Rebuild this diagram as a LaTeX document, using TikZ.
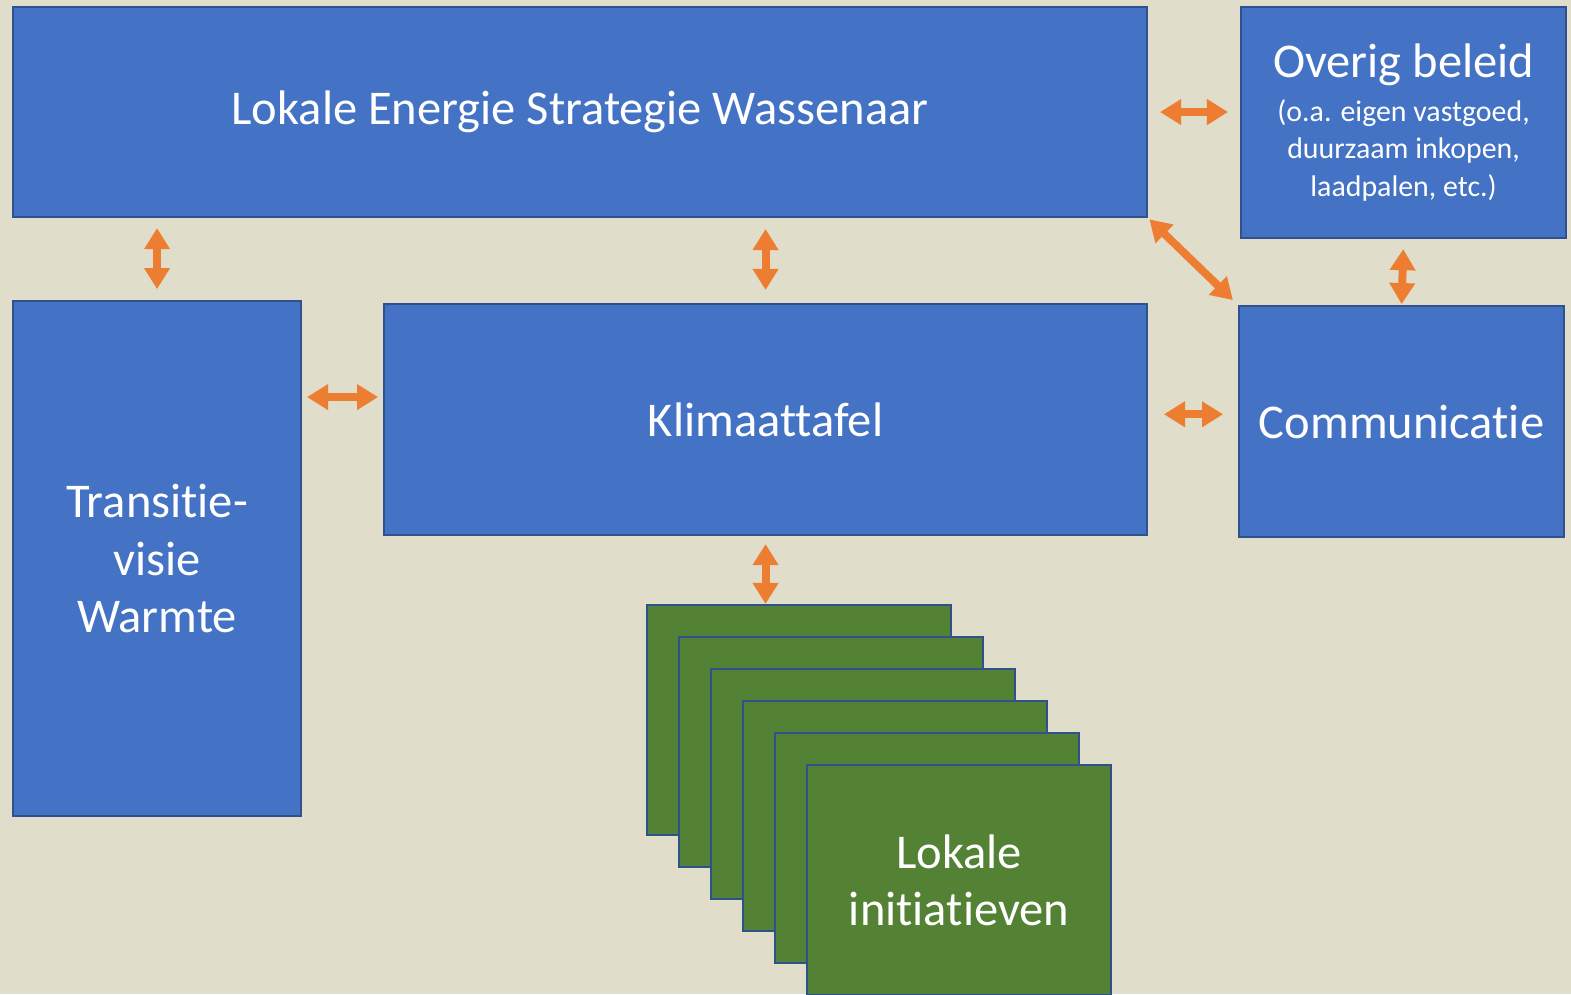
\documentclass[tikz,border=0pt]{standalone}
\usepackage{fontspec}
\setmainfont{Carlito}[Ligatures=NoCommon]
\usetikzlibrary{arrows.meta}
\definecolor{achter}{HTML}{E0DDCB}
\definecolor{blauw}{HTML}{4472C4}
\definecolor{rand}{HTML}{2F528F}
\definecolor{groen}{HTML}{548235}
\definecolor{oranje}{HTML}{ED7D31}
\def\u{0.02cm}
\newcommand\groot{\fontsize{27.6}{32.6}\selectfont}

\begin{document}
\begin{tikzpicture}[x=0.02cm,y=-0.02cm,
    blok/.style={draw=rand,line width=1.2pt,fill=blauw,text=white,inner sep=0pt,
      anchor=north west,align=center,font=\groot},
    groenblok/.style={blok,fill=groen},
    pijl/.style={draw=oranje,line width=4.5pt,
      {Triangle[width=14pt,length=12pt]}-{Triangle[width=14pt,length=12pt]}}]
    % achtergrond
    \fill[achter] (0,0) rectangle (1571,994);
    \useasboundingbox (0,0) rectangle (1571,994);
    % blokken
    \node[blok,minimum width=1134*\u,minimum height=210*\u] (les) at (12,6)
      {Lokale Energie Strategie Wassenaar};
    \node[blok,minimum width=325*\u,minimum height=231*\u,
          font=\fontsize{17}{21.5}\selectfont] (overig) at (1240,6)
      {{\groot Overig beleid}\\[3.5pt](o.a. eigen vastgoed,\\duurzaam inkopen,\\laadpalen, etc.)};
    \node[blok,minimum width=288*\u,minimum height=515*\u] (trans) at (12,300)
      {Transitie-\\visie\\Warmte};
    \node[blok,minimum width=763*\u,minimum height=231*\u] (klima) at (383,303)
      {Klimaattafel};
    \node[blok,minimum width=325*\u,minimum height=231*\u] (comm) at (1238,305)
      {Communicatie};
    % lokale initiatieven
    \foreach \i in {0,...,4}
      \node[groenblok,minimum width=304*\u,minimum height=230*\u] (g\i) at (646+32*\i,604+32*\i) {};
    \node[groenblok,minimum width=304*\u,minimum height=230*\u] (g5) at (806,764)
      {Lokale\\initiatieven};
    % pijlen
    \draw[pijl,shorten <=6.8pt,shorten >=6.8pt] (les.east) -- (les.east -| overig.west);
    \draw[pijl,shorten <=6.2pt,shorten >=5.7pt] (trans.north) -- (trans.north |- les.south);
    \draw[pijl,shorten <=7.4pt,shorten >=6.2pt] (klima.north) -- (klima.north |- les.south);
    \draw[pijl,shorten <=1pt,shorten >=4pt] (les.south east) -- (comm.north west);
    \draw[pijl,shorten <=0.5pt,shorten >=5.7pt] (comm.north) -- (overig.south);
    \draw[pijl,shorten <=2.8pt,shorten >=2.8pt] ([yshift=12.8pt]trans.east |- klima.west) -- ([yshift=12.8pt]klima.west);
    \draw[pijl,shorten <=9pt,shorten >=8.5pt] ([yshift=3pt]klima.east) -- ([yshift=3pt]klima.east -| comm.west);
    \draw[pijl,shorten <=4.5pt] (klima.south) -- (klima.south |- g0.north);
\end{tikzpicture}
\end{document}
